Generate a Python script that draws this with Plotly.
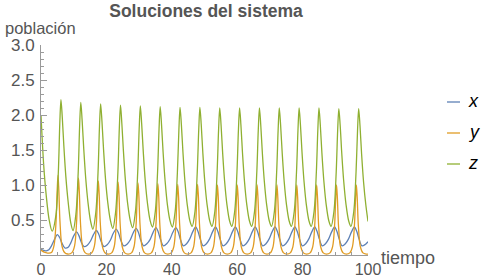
import plotly.graph_objects as go

# ---- data ----
t_x = [0.0, 0.8, 1.6, 2.4, 3.2, 4.1, 5.0, 5.7, 6.4, 7.3, 8.3,
       9.07, 9.97, 10.87, 11.57, 12.27, 13.17, 14.17,
       15.14, 16.04, 16.94, 17.64, 18.34, 19.24, 20.24,
       21.21, 22.11, 23.01, 23.71, 24.41, 25.31, 26.31,
       27.28, 28.18, 29.08, 29.78, 30.48, 31.38, 32.38,
       33.35, 34.25, 35.15, 35.85, 36.55, 37.45, 38.45,
       39.42, 40.32, 41.22, 41.92, 42.62, 43.52, 44.52,
       45.49, 46.39, 47.29, 47.99, 48.69, 49.59, 50.59,
       51.56, 52.46, 53.36, 54.06, 54.76, 55.66, 56.66,
       57.63, 58.53, 59.43, 60.13, 60.83, 61.73, 62.73,
       63.70, 64.60, 65.50, 66.20, 66.90, 67.80, 68.80,
       69.77, 70.67, 71.57, 72.27, 72.97, 73.87, 74.87,
       75.84, 76.74, 77.64, 78.34, 79.04, 79.94, 80.94,
       81.91, 82.81, 83.71, 84.41, 85.11, 86.01, 87.01,
       87.98, 88.88, 89.78, 90.48, 91.18, 92.08, 93.08,
       94.05, 94.95, 95.85, 96.55, 97.25, 98.15, 99.15, 100.0]
v_x = [0.085, 0.065, 0.06, 0.075, 0.13, 0.22, 0.29, 0.25, 0.17, 0.10, 0.11,
       0.17, 0.27, 0.33, 0.28, 0.19, 0.12, 0.14,
       0.20, 0.29, 0.35, 0.30, 0.20, 0.12, 0.145,
       0.21, 0.31, 0.37, 0.315, 0.21, 0.13, 0.155,
       0.215, 0.315, 0.38, 0.325, 0.215, 0.13, 0.16,
       0.22, 0.32, 0.39, 0.33, 0.22, 0.13, 0.16,
       0.225, 0.325, 0.39, 0.335, 0.225, 0.13, 0.16,
       0.23, 0.33, 0.40, 0.34, 0.23, 0.13, 0.16,
       0.23, 0.33, 0.40, 0.34, 0.23, 0.13, 0.16,
       0.23, 0.33, 0.40, 0.34, 0.23, 0.13, 0.16,
       0.23, 0.33, 0.40, 0.34, 0.23, 0.13, 0.16,
       0.23, 0.33, 0.40, 0.34, 0.23, 0.13, 0.16,
       0.23, 0.33, 0.40, 0.34, 0.23, 0.13, 0.16,
       0.23, 0.33, 0.40, 0.34, 0.23, 0.13, 0.16,
       0.23, 0.33, 0.40, 0.34, 0.23, 0.13, 0.16,
       0.23, 0.33, 0.40, 0.34, 0.23, 0.13, 0.15, 0.19]

t_y = [0.0, 1.0, 2.0,
       3.2, 4.0, 4.6, 4.95, 5.2, 5.45, 5.8, 6.4, 7.2, 8.2,
       9.47, 10.27, 10.87, 11.22, 11.47, 11.72, 12.07, 12.67, 13.47, 14.47,
       15.54, 16.34, 16.94, 17.29, 17.54, 17.79, 18.14, 18.74, 19.54, 20.54,
       21.61, 22.41, 23.01, 23.36, 23.61, 23.86, 24.21, 24.81, 25.61, 26.61,
       27.68, 28.48, 29.08, 29.43, 29.68, 29.93, 30.28, 30.88, 31.68, 32.68,
       33.75, 34.55, 35.15, 35.50, 35.75, 36.00, 36.35, 36.95, 37.75, 38.75,
       39.82, 40.62, 41.22, 41.57, 41.82, 42.07, 42.42, 43.02, 43.82, 44.82,
       45.89, 46.69, 47.29, 47.64, 47.89, 48.14, 48.49, 49.09, 49.89, 50.89,
       51.96, 52.76, 53.36, 53.71, 53.96, 54.21, 54.56, 55.16, 55.96, 56.96,
       58.03, 58.83, 59.43, 59.78, 60.03, 60.28, 60.63, 61.23, 62.03, 63.03,
       64.10, 64.90, 65.50, 65.85, 66.10, 66.35, 66.70, 67.30, 68.10, 69.10,
       70.17, 70.97, 71.57, 71.92, 72.17, 72.42, 72.77, 73.37, 74.17, 75.17,
       76.24, 77.04, 77.64, 77.99, 78.24, 78.49, 78.84, 79.44, 80.24, 81.24,
       82.31, 83.11, 83.71, 84.06, 84.31, 84.56, 84.91, 85.51, 86.31, 87.31,
       88.38, 89.18, 89.78, 90.13, 90.38, 90.63, 90.98, 91.58, 92.38, 93.38,
       94.45, 95.25, 95.85, 96.20, 96.45, 96.70, 97.05, 97.65, 98.45, 99.45, 100.0]
v_y = [0.07, 0.04, 0.028,
       0.035, 0.14, 0.48, 0.93, 1.14, 0.93, 0.48, 0.13, 0.035, 0.014,
       0.034, 0.13, 0.46, 0.90, 1.10, 0.90, 0.46, 0.13, 0.034, 0.013,
       0.033, 0.13, 0.45, 0.87, 1.06, 0.87, 0.45, 0.13, 0.033, 0.013,
       0.03, 0.125, 0.44, 0.85, 1.04, 0.85, 0.44, 0.125, 0.03, 0.012,
       0.03, 0.125, 0.435, 0.845, 1.03, 0.845, 0.435, 0.125, 0.03, 0.012,
       0.03, 0.12, 0.43, 0.84, 1.02, 0.84, 0.43, 0.12, 0.03, 0.012,
       0.03, 0.12, 0.425, 0.83, 1.01, 0.83, 0.425, 0.12, 0.03, 0.012,
       0.03, 0.12, 0.425, 0.83, 1.01, 0.83, 0.425, 0.12, 0.03, 0.012,
       0.03, 0.12, 0.42, 0.82, 1.00, 0.82, 0.42, 0.12, 0.03, 0.012,
       0.03, 0.12, 0.42, 0.82, 1.00, 0.82, 0.42, 0.12, 0.03, 0.012,
       0.03, 0.12, 0.42, 0.82, 1.00, 0.82, 0.42, 0.12, 0.03, 0.012,
       0.03, 0.12, 0.42, 0.82, 1.00, 0.82, 0.42, 0.12, 0.03, 0.012,
       0.03, 0.12, 0.42, 0.82, 1.00, 0.82, 0.42, 0.12, 0.03, 0.012,
       0.03, 0.12, 0.42, 0.82, 1.00, 0.82, 0.42, 0.12, 0.03, 0.012,
       0.03, 0.12, 0.42, 0.82, 1.00, 0.82, 0.42, 0.12, 0.03, 0.012,
       0.03, 0.12, 0.42, 0.82, 1.00, 0.82, 0.42, 0.12, 0.03, 0.012, 0.012]

t_z = [0.0, 0.8, 1.6, 2.5, 3.4,
       4.60, 5.30, 5.75, 6.10, 6.50, 7.00, 7.60, 8.30, 9.10, 9.80,
       10.67, 11.37, 11.82, 12.17, 12.57, 13.07, 13.67, 14.37, 15.17, 15.87,
       16.74, 17.44, 17.89, 18.24, 18.64, 19.14, 19.74, 20.44, 21.24, 21.94,
       22.81, 23.51, 23.96, 24.31, 24.71, 25.21, 25.81, 26.51, 27.31, 28.01,
       28.88, 29.58, 30.03, 30.38, 30.78, 31.28, 31.88, 32.58, 33.38, 34.08,
       34.95, 35.65, 36.10, 36.45, 36.85, 37.35, 37.95, 38.65, 39.45, 40.15,
       41.02, 41.72, 42.17, 42.52, 42.92, 43.42, 44.02, 44.72, 45.52, 46.22,
       47.09, 47.79, 48.24, 48.59, 48.99, 49.49, 50.09, 50.79, 51.59, 52.29,
       53.16, 53.86, 54.31, 54.66, 55.06, 55.56, 56.16, 56.86, 57.66, 58.36,
       59.23, 59.93, 60.38, 60.73, 61.13, 61.63, 62.23, 62.93, 63.73, 64.43,
       65.30, 66.00, 66.45, 66.80, 67.20, 67.70, 68.30, 69.00, 69.80, 70.50,
       71.37, 72.07, 72.52, 72.87, 73.27, 73.77, 74.37, 75.07, 75.87, 76.57,
       77.44, 78.14, 78.59, 78.94, 79.34, 79.84, 80.44, 81.14, 81.94, 82.64,
       83.51, 84.21, 84.66, 85.01, 85.41, 85.91, 86.51, 87.21, 88.01, 88.71,
       89.58, 90.28, 90.73, 91.08, 91.48, 91.98, 92.58, 93.28, 94.08, 94.78,
       95.65, 96.35, 96.80, 97.15, 97.55, 98.05, 98.65, 99.35, 100.0]
v_z = [2.0, 1.3, 0.85, 0.5, 0.34,
       0.58, 1.18, 1.88, 2.22, 1.97, 1.55, 1.12, 0.76, 0.46, 0.35,
       0.58, 1.17, 1.85, 2.18, 1.93, 1.52, 1.10, 0.75, 0.48, 0.37,
       0.60, 1.18, 1.84, 2.16, 1.91, 1.50, 1.08, 0.74, 0.49, 0.38,
       0.61, 1.18, 1.82, 2.14, 1.89, 1.48, 1.07, 0.73, 0.49, 0.39,
       0.62, 1.19, 1.81, 2.13, 1.88, 1.47, 1.06, 0.73, 0.49, 0.40,
       0.62, 1.19, 1.80, 2.12, 1.87, 1.46, 1.06, 0.72, 0.49, 0.40,
       0.62, 1.19, 1.79, 2.11, 1.87, 1.46, 1.05, 0.72, 0.49, 0.41,
       0.62, 1.19, 1.79, 2.11, 1.87, 1.46, 1.05, 0.72, 0.49, 0.41,
       0.62, 1.19, 1.79, 2.10, 1.86, 1.45, 1.05, 0.72, 0.49, 0.41,
       0.62, 1.19, 1.79, 2.10, 1.86, 1.45, 1.05, 0.72, 0.49, 0.41,
       0.62, 1.19, 1.79, 2.10, 1.86, 1.45, 1.05, 0.72, 0.49, 0.41,
       0.62, 1.19, 1.79, 2.10, 1.86, 1.45, 1.05, 0.72, 0.49, 0.41,
       0.62, 1.19, 1.79, 2.10, 1.86, 1.45, 1.05, 0.72, 0.49, 0.41,
       0.62, 1.19, 1.79, 2.10, 1.86, 1.45, 1.05, 0.72, 0.49, 0.41,
       0.62, 1.19, 1.79, 2.09, 1.86, 1.45, 1.05, 0.72, 0.49, 0.41,
       0.62, 1.19, 1.78, 2.09, 1.85, 1.44, 1.04, 0.71, 0.48]

series_names = ["x", "y", "z"]
series_colors = ["#5E81B5", "#E19C24", "#8FB032"]
x_ticks = [0, 20, 40, 60, 80, 100]
y_ticks = [0.5, 1.0, 1.5, 2.0, 2.5, 3.0]
y_tick_text = ["0.5", "1.0", "1.5", "2.0", "2.5", "3.0"]

FONT = "Liberation Sans, Arial, Helvetica, sans-serif"
GREY_TXT = "#555555"
AXIS_COL = "#9a9a9a"

L, R, T, B = 41, 115, 45, 23
W, H = 483, 278
PW, PH = W - L - R, H - T - B


def px_x(px):
    return (px - L) / PW


def px_y(py):
    return (H - B - py) / PH


fig = go.Figure()
for name, tt, vv, col in zip(series_names, [t_x, t_y, t_z], [v_x, v_y, v_z], series_colors):
    fig.add_trace(go.Scatter(x=tt, y=vv, mode="lines", name=name,
                             line=dict(color=col, width=1.3, shape="spline", smoothing=0.9),
                             showlegend=False, hoverinfo="skip"))

fig.update_layout(
    width=W, height=H,
    margin=dict(l=L, r=R, t=T, b=B, autoexpand=False),
    paper_bgcolor="white", plot_bgcolor="white",
    font=dict(family=FONT, color=GREY_TXT, size=16),
    title=dict(text="<b>Soluciones del sistema</b>", x=206 / W, xanchor="center",
               y=1 - 11 / H, yanchor="middle", font=dict(size=17.5, color=GREY_TXT, family=FONT)),
)
fig.update_xaxes(range=[0, 100], showgrid=False, zeroline=False, showline=True, automargin=False,
                 linecolor=AXIS_COL, linewidth=1, tickmode="array", tickvals=x_ticks,
                 ticks="inside", ticklen=5, tickcolor=AXIS_COL, tickwidth=1,
                 tickfont=dict(size=16, color=GREY_TXT, family=FONT),
                 minor=dict(dtick=5, ticks="inside", ticklen=3, tickcolor=AXIS_COL),
                 ticklabelstandoff=0)
fig.update_yaxes(range=[0, 3.0], showgrid=False, zeroline=False, showline=True, automargin=False,
                 linecolor=AXIS_COL, linewidth=1, tickmode="array", tickvals=y_ticks,
                 ticktext=y_tick_text,
                 ticks="inside", ticklen=6, tickcolor=AXIS_COL, tickwidth=1,
                 tickfont=dict(size=17, color=GREY_TXT, family=FONT),
                 minor=dict(dtick=0.1, ticks="inside", ticklen=3, tickcolor=AXIS_COL),
                 ticklabelstandoff=2)

# axis labels
fig.add_annotation(text="población", xref="paper", yref="paper", x=px_x(3), y=px_y(28),
                   xanchor="left", yanchor="middle", showarrow=False,
                   font=dict(size=16.5, color=GREY_TXT, family=FONT))
fig.add_annotation(text="tiempo", xref="paper", yref="paper", x=px_x(379), y=px_y(258),
                   xanchor="left", yanchor="middle", showarrow=False,
                   font=dict(size=18, color=GREY_TXT, family=FONT))

# legend (line sample + italic label)
leg_y = [102, 133, 164]
for name, col, py in zip(series_names, series_colors, leg_y):
    fig.add_shape(type="line", xref="paper", yref="paper",
                  x0=px_x(447), x1=px_x(460), y0=px_y(py), y1=px_y(py),
                  line=dict(color=col, width=1.3))
    fig.add_annotation(text=f"<i>{name}</i>", xref="paper", yref="paper",
                       x=px_x(466), y=px_y(py - 1), xanchor="left", yanchor="middle",
                       showarrow=False, font=dict(size=18, color="#000000", family=FONT))

fig.write_html("out.html", config={"displayModeBar": False},
               post_script="document.body.style.margin='0';document.body.style.padding='0';")
